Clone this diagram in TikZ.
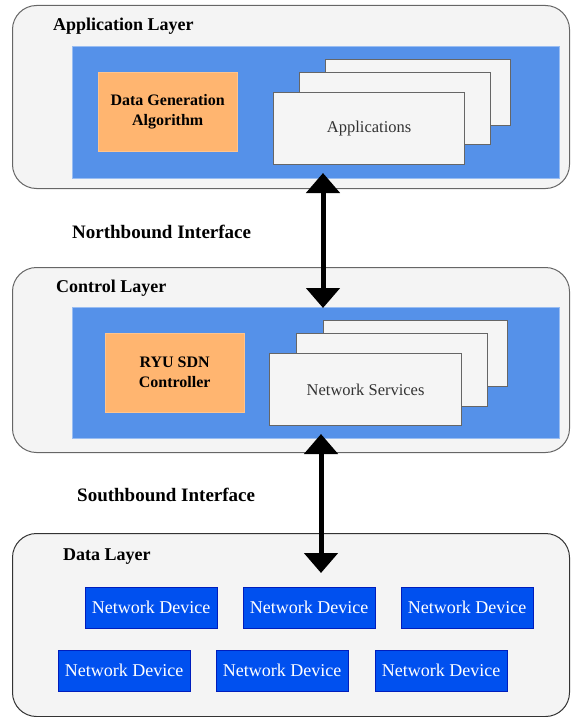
\documentclass[tikz,border=0pt]{standalone}
\usepackage{fontspec}
\setmainfont{Liberation Serif}
\usetikzlibrary{arrows.meta}

\definecolor{layerfill}{HTML}{F4F4F4}
\definecolor{layerline}{HTML}{666666}
\definecolor{panelblue}{HTML}{5591E9}
\definecolor{algofill}{HTML}{FFB570}
\definecolor{stackfill}{HTML}{F5F5F5}
\definecolor{stackline}{HTML}{666666}
\definecolor{devfill}{HTML}{0050EF}
\definecolor{devline}{HTML}{001DBC}

\tikzset{
  layerbox/.style={draw=layerline, fill=layerfill, line width=1pt, rounded corners=24pt, anchor=north west, inner sep=0pt},
  bluepanel/.style={fill=panelblue, draw=panelblue!60!white, anchor=north west, inner sep=0pt},
  algobox/.style={fill=algofill, draw=algofill!80!white, anchor=north west, inner sep=0pt, align=center, font=\bfseries\fontsize{16}{20}\selectfont},
  stackbox/.style={fill=stackfill, draw=stackline, line width=1.2pt, anchor=north west, inner sep=0pt, text=black!80, font=\fontsize{16.5}{20}\selectfont},
  devbox/.style={fill=devfill, draw=devline, text=white, anchor=north west, inner sep=0pt, minimum width=132pt, minimum height=41pt, font=\fontsize{18}{20}\selectfont},
  layertitle/.style={anchor=west, inner sep=0pt, font=\bfseries\fontsize{18}{20}\selectfont},
  ifacetitle/.style={anchor=west, inner sep=0pt, font=\bfseries\fontsize{19}{20}\selectfont},
  bigarrow/.style={line width=5pt, {Triangle[width=33pt,length=20pt]}-{Triangle[width=33pt,length=20pt]}},
}

\begin{document}
\begin{tikzpicture}[x=1pt, y=-1pt]
\useasboundingbox (0,0) rectangle (570,717);

% application layer
\node[layerbox, minimum width=557pt, minimum height=183pt] (applayer) at (12,5) {};
\node[layertitle] (applabel) at (53,26.5) {Application Layer};
\node[bluepanel, minimum width=487pt, minimum height=132pt] (apppanel) at (72,46) {};
\node[algobox, minimum width=139pt, minimum height=79pt] (algo) at (98,72) {Data Generation\\Algorithm};
\node[stackbox, minimum width=185pt, minimum height=66pt] (apps3) at (325,59) {};
\node[stackbox, minimum width=191pt, minimum height=72pt] (apps2) at (299,72) {};
\node[stackbox, minimum width=191pt, minimum height=72pt] (apps1) at (273,92) {Applications};

\node[ifacetitle] (northlabel) at (72,231.5) {Northbound Interface};

% control layer
\node[layerbox, minimum width=557pt, minimum height=185pt] (ctllayer) at (12,267) {};
\node[layertitle] (ctllabel) at (56,288) {Control Layer};
\node[bluepanel, minimum width=487pt, minimum height=131pt] (ctlpanel) at (72,307) {};
\node[algobox, minimum width=139pt, minimum height=79pt] (ryu) at (105,333) {RYU SDN\\Controller};
\node[stackbox, minimum width=184pt, minimum height=66pt] (serv3) at (323,320) {};
\node[stackbox, minimum width=191pt, minimum height=73pt] (serv2) at (296,333) {};
\node[stackbox, minimum width=192pt, minimum height=72pt] (serv1) at (269,353) {Network Services};

\node[ifacetitle] (southlabel) at (77,495) {Southbound Interface};

% data layer
\node[layerbox, draw=black!80, minimum width=557pt, minimum height=183pt] (datalayer) at (12,533) {};
\node[layertitle] (datalabel) at (63,557) {Data Layer};
\node[devbox] (dev1) at (85,587) {Network Device};
\node[devbox] (dev2) at (243,587) {Network Device};
\node[devbox] (dev3) at (401,587) {Network Device};
\node[devbox] (dev4) at (58,650) {Network Device};
\node[devbox] (dev5) at (216,650) {Network Device};
\node[devbox] (dev6) at (375,650) {Network Device};

% interfaces
\coordinate (northtop) at (323,173);
\coordinate (northbot) at (323,308);
\coordinate (southtop) at (321,434);
\coordinate (southbot) at (321,573);
\draw[bigarrow] (northtop) -- (northbot);
\draw[bigarrow] (southtop) -- (southbot);
\end{tikzpicture}
\end{document}
